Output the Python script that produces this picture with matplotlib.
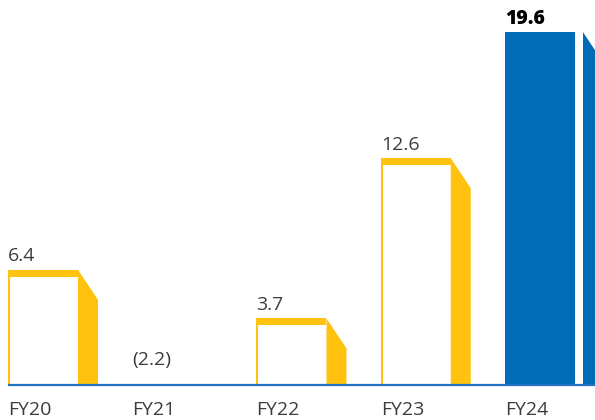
import matplotlib.pyplot as plt
from matplotlib.patches import Rectangle, Polygon

years = ["FY20", "FY21", "FY22", "FY23", "FY24"]
values = [6.4, -2.2, 3.7, 12.6, 19.6]
value_labels = ["6.4", "(2.2)", "3.7", "12.6", "19.6"]

yellow = "#FFC20E"
blue = "#006BB6"
text_gray = "#3c3c3c"

plt.rcParams['font.family'] = ['Open Sans', 'DejaVu Sans']

fig = plt.figure(figsize=(5.95, 4.2), dpi=100)
ax = fig.add_axes([0, 0, 1, 1])

step = 124.25              # px per category
px = 1 / step              # one pixel in x units
py = 1 / 18                # one pixel in y units
w = 70 * px                # front face width
sw = 20 * px               # side face width
drop = 30 * py             # slant of the side face top
gap = 8 * px               # white gap for the highlighted bar

ax.set_xlim(-8 * px, 587 * px)
ax.set_ylim(-35 * py, 385 * py)
ax.axis('off')

for i, (yr, v, lab) in enumerate(zip(years, values, value_labels)):
    last = i == len(years) - 1
    if v > 0:
        if last:
            ax.add_patch(Rectangle((i, 0), w, v, color=blue, lw=0))
            sx = i + w + gap
            ax.add_patch(Polygon([(sx, 0), (sx, v), (sx + sw, v - drop), (sx + sw, 0)],
                                 closed=True, color=blue, lw=0))
        else:
            ax.add_patch(Rectangle((i, 0), w, v, color=yellow, lw=0))
            ax.add_patch(Rectangle((i + 2 * px, 0), w - 2 * px, v - 7 * py,
                                   color="white", lw=0))
            sx = i + w
            ax.add_patch(Polygon([(sx, 0), (sx, v), (sx + sw, v - drop), (sx + sw, 0)],
                                 closed=True, color=yellow, lw=0))
        ly = v + 13.5 * py
    else:
        ly = 25 * py
    ax.text(i, ly, lab, ha='left', va='center', fontsize=14,
            color="black" if last else text_gray,
            fontweight='heavy' if last else 'normal')
    ax.text(i, -25 * py, yr, ha='left', va='center', fontsize=14, color=text_gray)

ax.plot([0, 600 * px], [0, 0], color="#1f72c4", lw=1.6, solid_capstyle='butt')

fig.savefig("out.png", dpi=100)
